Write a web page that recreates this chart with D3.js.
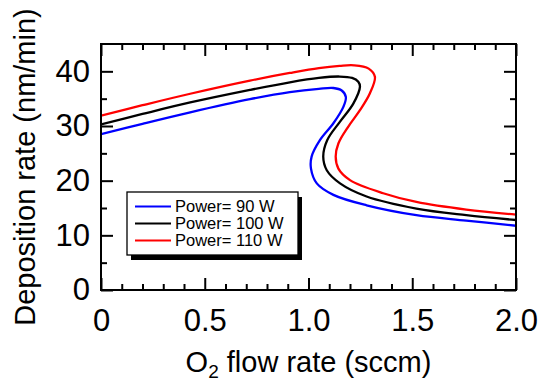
<!DOCTYPE html>
<html>
<head>
<meta charset="utf-8">
<script src="https://cdn.jsdelivr.net/npm/d3@7/dist/d3.min.js"></script>
<style>
  body { margin: 0; background: #fff; }
  svg text { font-family: "Liberation Sans", Arial, sans-serif; fill: #000; }
</style>
</head>
<body>
<svg width="547" height="383"></svg>
<script>
// 読み取った値（曲線は折り返すので、曲線に沿った順番）
var flow90  = [0, 0.2, 0.43, 0.718, 0.91, 1.05, 1.12, 1.16, 1.18, 1.168, 1.12, 1.055, 1.015, 1.012, 1.04, 1.12, 1.28, 1.52, 1.76, 2.0];
var rate90  = [28.5, 30.4, 32.5, 34.9, 36.2, 36.8, 36.95, 36.5, 35.3, 33.5, 30.5, 27.4, 24.4, 22.2, 19.5, 17.4, 15.5, 13.7, 12.7, 11.75];
var flow100 = [0, 0.2, 0.43, 0.718, 0.91, 1.05, 1.15, 1.21, 1.24, 1.248, 1.216, 1.152, 1.09, 1.071, 1.088, 1.152, 1.28, 1.52, 1.76, 2.0];
var rate100 = [30.3, 32.2, 34.3, 36.6, 38.0, 38.8, 39.05, 38.8, 38.1, 37.2, 34.1, 30.8, 27.4, 24.4, 21.9, 19.5, 17.1, 14.9, 13.7, 12.8];
var flow110 = [0, 0.2, 0.43, 0.718, 0.91, 1.05, 1.15, 1.22, 1.29, 1.32, 1.296, 1.248, 1.192, 1.144, 1.131, 1.144, 1.2, 1.36, 1.52, 1.76, 2.0];
var rate110 = [31.9, 33.8, 35.9, 38.3, 39.7, 40.6, 41.0, 41.1, 40.5, 39.0, 36.0, 32.9, 29.9, 26.8, 24.4, 22.2, 20.1, 17.7, 16.1, 14.7, 13.8];

var seriesNames = ["Power= 90 W", "Power= 100 W", "Power= 110 W"];
var seriesColors = ["#0000ff", "#000000", "#ff0000"];

var xTicks = [0, 0.5, 1.0, 1.5, 2.0];
var xTickLabels = ["0", "0.5", "1.0", "1.5", "2.0"];
var yTicks = [0, 10, 20, 30, 40];

var svg = d3.select("svg"),
    margin = {top: 44, right: 31, bottom: 93, left: 101},
    width = +svg.attr("width"),
    height = +svg.attr("height"),
    cWidth = width - margin.left - margin.right,
    cHeight = height - margin.top - margin.bottom;

var g = svg.append("g").attr("transform", "translate(" + margin.left + "," + margin.top + ")");

var x = d3.scaleLinear().domain([0, 2]).range([0, cWidth]);
var y = d3.scaleLinear().domain([0, 45]).range([cHeight, 0]);

var series = [
  {name: seriesNames[0], color: seriesColors[0], xs: flow90, ys: rate90},
  {name: seriesNames[1], color: seriesColors[1], xs: flow100, ys: rate100},
  {name: seriesNames[2], color: seriesColors[2], xs: flow110, ys: rate110}
];

// クリップ
g.append("clipPath").attr("id", "clip")
  .append("rect").attr("width", cWidth).attr("height", cHeight);

var line = d3.line()
    .x(function(d) { return x(d[0]); })
    .y(function(d) { return y(d[1]); })
    .curve(d3.curveCatmullRom.alpha(0.5));

g.append("g")
    .attr("clip-path", "url(#clip)")
  .selectAll("path")
  .data(series)
  .enter()
  .append("path")
    .attr("fill", "none")
    .attr("stroke", function(d) { return d.color; })
    .attr("stroke-width", 2.3)
    .attr("d", function(d) { return line(d.xs.map(function(v, i) { return [v, d.ys[i]]; })); });

// 目盛り（内向き、四辺）
var xMinor = d3.range(0, 2.001, 0.1).filter(function(v) { return Math.abs(v * 2 - Math.round(v * 2)) > 1e-6; });
var yMinor = [5, 15, 25, 35];

function tickStyle(sel) {
  sel.select(".domain").remove();
  sel.selectAll("line").attr("stroke", "#000").attr("stroke-width", 2);
}

g.append("g").attr("transform", "translate(0," + cHeight + ")")
  .call(d3.axisBottom(x).tickValues(xTicks).tickSize(-12).tickPadding(19)
    .tickFormat(function(d, i) { return xTickLabels[i]; }))
  .call(tickStyle)
  .selectAll("text").attr("font-size", 31).attr("fill", "#000");
g.append("g").attr("transform", "translate(0," + cHeight + ")")
  .call(d3.axisBottom(x).tickValues(xMinor).tickSize(-6).tickFormat(""))
  .call(tickStyle);
g.append("g")
  .call(d3.axisTop(x).tickValues(xTicks).tickSize(-12).tickFormat(""))
  .call(tickStyle);
g.append("g")
  .call(d3.axisTop(x).tickValues(xMinor).tickSize(-6).tickFormat(""))
  .call(tickStyle);

g.append("g")
  .call(d3.axisLeft(y).tickValues(yTicks).tickSize(-12).tickPadding(11))
  .call(tickStyle)
  .selectAll("text").attr("font-size", 31).attr("fill", "#000");
g.append("g")
  .call(d3.axisLeft(y).tickValues(yMinor).tickSize(-6).tickFormat(""))
  .call(tickStyle);
g.append("g").attr("transform", "translate(" + cWidth + ",0)")
  .call(d3.axisRight(y).tickValues(yTicks).tickSize(-12).tickFormat(""))
  .call(tickStyle);
g.append("g").attr("transform", "translate(" + cWidth + ",0)")
  .call(d3.axisRight(y).tickValues(yMinor).tickSize(-6).tickFormat(""))
  .call(tickStyle);

// 枠
g.append("rect")
    .attr("width", cWidth)
    .attr("height", cHeight)
    .attr("fill", "none")
    .attr("stroke", "#000")
    .attr("stroke-width", 2);

// 軸ラベル
var xt = svg.append("text")
    .attr("x", margin.left + cWidth / 2)
    .attr("y", 372)
    .attr("text-anchor", "middle")
    .attr("font-size", 29);
xt.append("tspan").text("O");
xt.append("tspan").attr("font-size", 19).attr("dy", 6).text("2");
xt.append("tspan").attr("dy", -6).text(" flow rate (sccm)");

svg.append("text")
    .attr("transform", "translate(35," + (margin.top + cHeight / 2) + ") rotate(-90)")
    .attr("text-anchor", "middle")
    .attr("font-size", 29)
    .text("Deposition rate (nm/min)");

// 凡例
var lg = svg.append("g").attr("transform", "translate(127,192)");
lg.append("rect").attr("x", 4).attr("y", 5).attr("width", 171).attr("height", 63).attr("fill", "#000");
lg.append("rect").attr("width", 171).attr("height", 63)
    .attr("fill", "#fff").attr("stroke", "#000").attr("stroke-width", 1.3);

var item = lg.selectAll(".item")
  .data(series)
  .enter()
  .append("g")
    .attr("class", "item")
    .attr("transform", function(d, i) { return "translate(0," + (14.5 + i * 17) + ")"; });
item.append("line")
    .attr("x1", 8).attr("x2", 44)
    .attr("stroke", function(d) { return d.color; })
    .attr("stroke-width", 2);
item.append("text")
    .attr("x", 48)
    .attr("dy", "0.35em")
    .attr("font-size", 16.5)
    .text(function(d) { return d.name; });
</script>
</body>
</html>
